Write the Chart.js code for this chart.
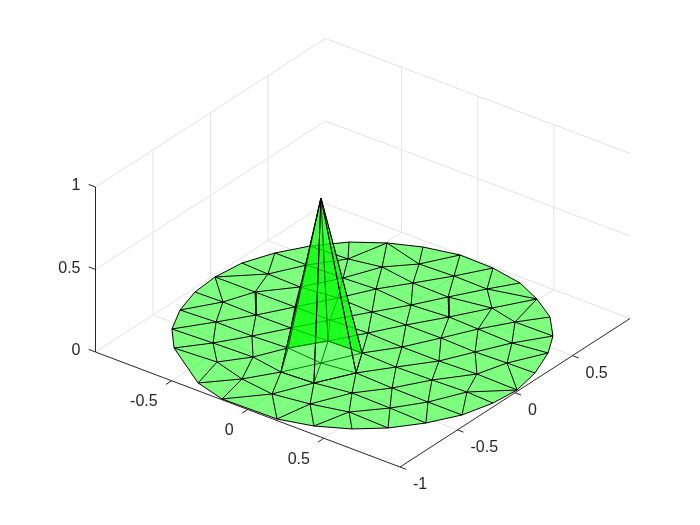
<!DOCTYPE html>
<html>
<head>
<meta charset="utf-8">
<title>Mesh spike</title>
<script src="https://cdn.jsdelivr.net/npm/chart.js@4"></script>
<style>
    html, body { margin: 0; padding: 0; background: #fff; }
    canvas { display: block; }
</style>
</head>
<body>
<canvas id="meshChart" width="700" height="525"></canvas>
<script>
// Mesh nodes
const nodeX = [-0.964, -0.892, -0.791, -0.655, -0.986, -0.786, -0.682, -0.551, -0.492, -0.317,
    -0.973, -0.919, -0.793, -0.724, -0.570, -0.449, -0.358, -0.224, -0.112,
    -0.831, -0.693, -0.572, -0.462, -0.342, -0.242, -0.127, -0.002, 0.108,
    -0.700, -0.571, -0.454, -0.344, -0.234, -0.111, 0.006, 0.108, 0.218, 0.316,
    -0.432, -0.315, -0.228, -0.107, 0.007, 0.113, 0.240, 0.361, 0.489,
    -0.376, -0.220, -0.103, 0.005, 0.111, 0.238, 0.342, 0.438, 0.546, 0.659,
    -0.174, 0.001, 0.104, 0.214, 0.342, 0.481, 0.573, 0.668, 0.793,
    0.182, 0.223, 0.326, 0.460, 0.574, 0.722, 0.776, 0.882,
    0.380, 0.436, 0.580, 0.699, 0.796, 0.956,
    0.557, 0.700, 0.825, 0.923, 0.975, 0.991];
const nodeY = [0.226, 0.417, 0.589, 0.748, 0.021, 0.216, 0.418, 0.601, 0.862, 0.943,
    -0.171, -0.372, -0.166, 0.022, 0.209, 0.423, 0.642, 0.786, 0.994,
    -0.559, -0.358, -0.171, 0.023, 0.237, 0.436, 0.605, 0.796, 0.989,
    -0.714, -0.546, -0.362, -0.169, 0.025, 0.227, 0.412, 0.599, 0.792, 0.949,
    -0.695, -0.537, -0.348, -0.160, 0.036, 0.226, 0.432, 0.646, 0.867,
    -0.934, -0.759, -0.575, -0.370, -0.153, 0.026, 0.228, 0.423, 0.601, 0.756,
    -0.993, -0.790, -0.562, -0.342, -0.163, 0.026, 0.218, 0.413, 0.604,
    -0.987, -0.753, -0.525, -0.354, -0.158, 0.037, 0.227, 0.444,
    -0.928, -0.696, -0.531, -0.358, -0.148, 0.232,
    -0.831, -0.707, -0.543, -0.359, -0.158, 0.030];
const apexNode = 50;
const apexHeight = 1;

const triangles = [
    [0, 5, 4], [0, 1, 5], [1, 6, 5], [1, 2, 6], [2, 7, 6], [2, 3, 7], [3, 8, 7],
    [10, 12, 11], [10, 4, 12], [4, 13, 12], [4, 5, 13], [5, 14, 13], [5, 6, 14], [6, 15, 14], [6, 7, 15],
    [7, 16, 15], [7, 8, 16], [8, 17, 16], [8, 9, 17], [9, 18, 17],
    [11, 20, 19], [11, 12, 20], [12, 21, 20], [12, 13, 21], [13, 22, 21], [13, 14, 22], [14, 23, 22], [14, 15, 23],
    [15, 24, 23], [15, 16, 24], [16, 25, 24], [16, 17, 25], [17, 26, 25], [17, 18, 26], [18, 27, 26],
    [19, 29, 28], [19, 20, 29], [20, 30, 29], [20, 21, 30], [21, 31, 30], [21, 22, 31], [22, 32, 31], [22, 23, 32],
    [23, 33, 32], [23, 24, 33], [24, 34, 33], [24, 25, 34], [25, 35, 34], [25, 26, 35], [26, 36, 35], [26, 27, 36], [27, 37, 36],
    [28, 29, 38], [29, 39, 38], [29, 30, 39], [30, 40, 39], [30, 31, 40], [31, 41, 40], [31, 32, 41], [32, 42, 41], [32, 33, 42],
    [33, 43, 42], [33, 34, 43], [34, 44, 43], [34, 35, 44], [35, 45, 44], [35, 36, 45], [36, 46, 45], [36, 37, 46],
    [28, 38, 47], [38, 48, 47], [38, 39, 48], [39, 49, 48], [39, 40, 49], [40, 50, 49], [40, 41, 50], [41, 51, 50], [41, 42, 51],
    [42, 52, 51], [42, 43, 52], [43, 53, 52], [43, 44, 53], [44, 54, 53], [44, 45, 54], [45, 55, 54], [45, 46, 55], [46, 56, 55],
    [47, 48, 57], [48, 58, 57], [48, 49, 58], [49, 59, 58], [49, 50, 59], [50, 60, 59], [50, 51, 60], [51, 61, 60], [51, 52, 61],
    [52, 62, 61], [52, 53, 62], [53, 63, 62], [53, 54, 63], [54, 64, 63], [54, 55, 64], [55, 65, 64], [55, 56, 65],
    [57, 58, 66], [58, 67, 66], [58, 59, 67], [59, 68, 67], [59, 60, 68], [60, 69, 68], [60, 61, 69], [61, 70, 69],
    [61, 62, 70], [62, 71, 70], [62, 63, 71], [63, 72, 71], [63, 64, 72], [64, 73, 72], [64, 65, 73],
    [66, 67, 74], [67, 75, 74], [67, 68, 75], [68, 76, 75], [68, 69, 76], [69, 77, 76], [69, 70, 77], [70, 78, 77],
    [70, 71, 78], [71, 85, 78], [71, 72, 85], [72, 79, 85], [72, 73, 79],
    [74, 75, 80], [75, 81, 80], [75, 76, 81], [76, 82, 81], [76, 77, 82], [77, 83, 82], [77, 78, 83], [78, 84, 83], [78, 85, 84]
];

// Tick labels
const xTicks = [-0.5, 0, 0.5];
const yTicks = [-1, -0.5, 0, 0.5];
const zTicks = [0, 0.5, 1];

// View of the 3D box on the canvas
const origin = [362.75, 335.25];
const xDir = [152.25, 57.5];
const yDir = [115, -74.25];
const zDir = [0, -165];

const gridColor = "#e2e2e2";
const axisColor = "#262626";
const faceColor = "rgba(0, 255, 0, 0.5)";

function project(x, y, z) {
    return {
        x: origin[0] + x * xDir[0] + y * yDir[0] + z * zDir[0],
        y: origin[1] + x * xDir[1] + y * yDir[1] + z * zDir[1],
    };
}

function nodeZ(i) {
    return i === apexNode ? apexHeight : 0;
}

function lineSet(points, color) {
    return {
        data: points.map(p => project(p[0], p[1], p[2])),
        showLine: true,
        borderColor: color,
        borderWidth: 1,
        pointRadius: 0,
        fill: false,
    };
}

function faceSet(tri, edgeWidth) {
    const corners = [tri[0], tri[1], tri[2], tri[0]];
    return {
        data: corners.map(i => project(nodeX[i], nodeY[i], nodeZ(i))),
        showLine: true,
        borderColor: "#000",
        borderWidth: edgeWidth,
        backgroundColor: faceColor,
        pointRadius: 0,
        fill: "shape",
    };
}

const sets = [];

// Grid on the walls and the floor
xTicks.forEach(x => {
    sets.push(lineSet([[x, -1, 0], [x, 1, 0], [x, 1, 1]], gridColor));
});
yTicks.slice(1).forEach(y => {
    sets.push(lineSet([[1, y, 0], [-1, y, 0], [-1, y, 1]], gridColor));
});
zTicks.forEach(z => {
    sets.push(lineSet([[-1, -1, z], [-1, 1, z], [1, 1, z]], gridColor));
});

// Flat part of the surface: faces first, then every edge once
const isSpike = tri => tri.includes(apexNode);
const flat = triangles.filter(t => !isSpike(t));
flat.forEach(t => sets.push(faceSet(t, 0)));

const seenEdges = new Set();
flat.forEach(t => {
    [[t[0], t[1]], [t[1], t[2]], [t[2], t[0]]].forEach(([a, b]) => {
        const key = Math.min(a, b) + "-" + Math.max(a, b);
        if (seenEdges.has(key)) return;
        seenEdges.add(key);
        sets.push(lineSet([[nodeX[a], nodeY[a], 0], [nodeX[b], nodeY[b], 0]], "#000"));
    });
});

// Spike faces from back to front, with the mesh edges under the spike
const spike = triangles.filter(isSpike);
const depth = t => t.reduce((sum, i) => sum + project(nodeX[i], nodeY[i], 0).y, 0);
spike.sort((a, b) => depth(a) - depth(b));
new Set(spike.flat()).forEach(i => {
    if (i === apexNode) return;
    sets.push(lineSet([[nodeX[apexNode], nodeY[apexNode], 0], [nodeX[i], nodeY[i], 0]], "#000"));
});
spike.forEach(t => sets.push(faceSet(t, 1)));

// Axes and tick marks
sets.push(lineSet([[-1, -1, 1], [-1, -1, 0], [1, -1, 0], [1, 1, 0]], axisColor));
xTicks.forEach(x => sets.push(lineSet([[x, -1, 0], [x, -1.05, 0]], axisColor)));
yTicks.forEach(y => sets.push(lineSet([[1, y, 0], [1.04, y, 0]], axisColor)));
zTicks.forEach(z => sets.push(lineSet([[-1, -1, z], [-1.045, -1, z]], axisColor)));

// Tick labels are placed from their tick position through the scales
const tickLabels = {
    id: "tickLabels",
    afterDraw(chart) {
        const { ctx, scales } = chart;
        const put = (value, p, dx, dy, align) => {
            const at = project(p[0], p[1], p[2]);
            ctx.textAlign = align;
            ctx.fillText(String(value), scales.x.getPixelForValue(at.x) + dx, scales.y.getPixelForValue(at.y) + dy);
        };
        ctx.save();
        ctx.font = '16px "Liberation Sans"';
        ctx.fillStyle = axisColor;
        ctx.textBaseline = "middle";
        xTicks.forEach(x => put(x, [x, -1, 0], -14, 21, "right"));
        yTicks.forEach(y => put(y, [1, y, 0], 13, 18, "left"));
        zTicks.forEach(z => put(z, [-1, -1, z], -15, -1, "right"));
        ctx.restore();
    },
};

const meshChart = new Chart(document.getElementById("meshChart"), {
    type: "scatter",
    // first dataset is painted last, so hand them over reversed
    data: { datasets: sets.reverse() },
    options: {
        responsive: false,
        animation: false,
        layout: { padding: 0 },
        plugins: { legend: { display: false }, tooltip: { enabled: false } },
        scales: {
            x: { type: "linear", display: false, min: 0, max: 700 },
            y: { type: "linear", display: false, min: 0, max: 525, reverse: true },
        },
    },
    plugins: [tickLabels],
});
</script>
</body>
</html>
